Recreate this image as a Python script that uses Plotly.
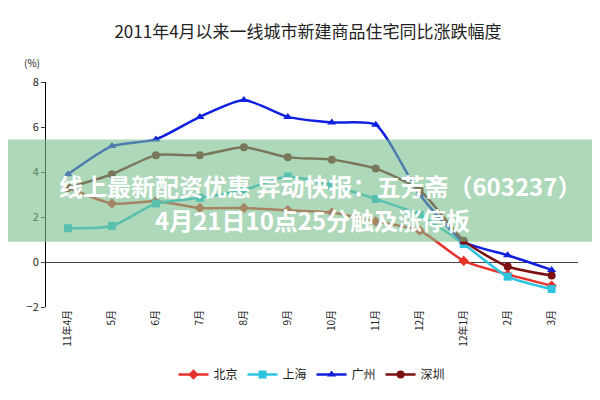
import plotly.graph_objects as go

months = ["11年4月", "5月", "6月", "7月", "8月", "9月", "10月", "11月", "12月", "12年1月", "2月", "3月"]
beijing = [3.3, 2.6, 2.7, 2.4, 2.4, 2.3, 2.2, 1.8, 1.4, 0.05, -0.55, -1.05]
shanghai = [1.5, 1.6, 2.6, 2.85, 3.2, 3.8, 3.4, 2.8, 2.1, 0.8, -0.65, -1.2]
guangzhou = [3.9, 5.15, 5.45, 6.45, 7.2, 6.45, 6.2, 6.1, 3.0, 0.9, 0.3, -0.35]
shenzhen = [3.3, 3.9, 4.75, 4.75, 5.1, 4.65, 4.55, 4.15, 3.2, 0.95, -0.2, -0.6]

series = [
    ("北京", beijing, "#E8312A", "diamond"),
    ("上海", shanghai, "#2EC4E0", "square"),
    ("广州", guangzhou, "#1020E0", "triangle-up"),
    ("深圳", shenzhen, "#7A1010", "circle"),
]
fig = go.Figure()
for name, vals, col, sym in series:
    fig.add_trace(go.Scatter(x=months, y=vals, name=name, mode="lines+markers",
                             line=dict(color=col, width=2.5, shape="spline", smoothing=0.6),
                             marker=dict(symbol=sym, size=8, color=col)))
fig.update_layout(
    width=600, height=400, margin=dict(l=38, r=30, t=74, b=101, autoexpand=False),
    paper_bgcolor="white", plot_bgcolor="white",
    font=dict(family="Noto Sans CJK SC", color="#222"),
    title=dict(text="2011年4月以来一线城市新建商品住宅同比涨跌幅度", x=0.5, y=0.955, xanchor="center",
               font=dict(size=17, color="#222")),
    showlegend=True,
    legend=dict(orientation="h", x=0.5, xanchor="center", y=-0.3, yanchor="middle", font=dict(size=12)),
    xaxis=dict(tickangle=-90, showgrid=False, showline=False, ticks="", tickfont=dict(size=10),
               range=[-0.5, 11.6], automargin=False),
    yaxis=dict(range=[-2, 8], dtick=2, showgrid=False, showline=True, linecolor="black", ticks="outside",
               ticklen=4, zeroline=True, zerolinecolor="#444", zerolinewidth=1, tickfont=dict(size=11),
               automargin=False),
)
fig.add_annotation(text="(%)", xref="paper", yref="paper", x=-0.045, y=1.13, showarrow=False, font=dict(size=10))
fig.add_shape(type="rect", xref="paper", yref="paper", x0=-0.25, x1=1.25, y0=0.29, y1=0.745,
              fillcolor="rgba(120,190,140,0.6)", line=dict(width=0), layer="above")
fig.add_annotation(text="<b>线上最新配资优惠 异动快报：五芳斋（603237）</b>", xref="paper", yref="paper",
                   x=0.515, y=0.54, showarrow=False, font=dict(size=24, color="white"))
fig.add_annotation(text="<b>4月21日10点25分触及涨停板</b>", xref="paper", yref="paper",
                   x=0.5, y=0.39, showarrow=False, font=dict(size=24, color="white"))
fig.write_html("out.html")
